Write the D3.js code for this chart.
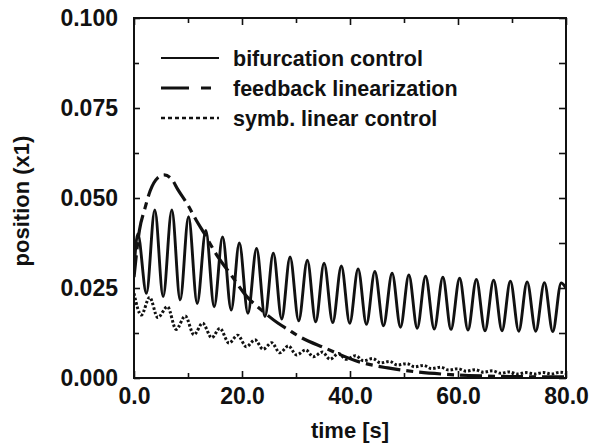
<!DOCTYPE html>
<html>
<head>
<meta charset="utf-8">
<script src="https://cdn.jsdelivr.net/npm/d3@7"></script>
<style>
  html, body { margin: 0; padding: 0; background: #fff; }
  svg { display: block; }
  text { font-family: Arial, "Liberation Sans", Helvetica, sans-serif; fill: #111; }
</style>
</head>
<body>
<svg id="chart" width="589" height="444"></svg>
<script>
// Time axis ticks [s]
const xMajorTicks = [0, 20, 40, 60, 80];
const xMinorTicks = [10, 30, 50, 70];
// Position axis ticks
const yMajorTicks = [0, 0.025, 0.05, 0.075, 0.1];
const yMinorTicks = [0.0125, 0.0375, 0.0625, 0.0875];

// Bifurcation control: sampled at the successive extrema of the oscillation
const bifurcationTime = [0, 0.7, 2.3, 3.85, 5.4, 7.0, 8.55, 10.1, 11.7, 13.3, 14.85, 16.4, 18.0, 19.5,
  21.1, 22.7, 24.25, 25.8, 27.35, 28.9, 30.5, 32.1, 33.65, 35.2, 36.8, 38.4, 39.95, 41.5, 43.05, 44.6,
  46.2, 47.8, 49.35, 50.9, 52.45, 54.0, 55.6, 57.2, 58.7, 60.3, 61.85, 63.4, 65.0, 66.6, 68.15, 69.7,
  71.25, 72.8, 74.4, 76.0, 77.55, 79.1, 80];
const bifurcationPos = [0.030, 0.040, 0.0235, 0.0467, 0.0226, 0.0467, 0.0217, 0.0448, 0.0207, 0.041,
  0.0198, 0.0392, 0.0189, 0.0375, 0.018, 0.036, 0.0171, 0.0347, 0.0164, 0.0336, 0.0159, 0.0327, 0.0156,
  0.0319, 0.0154, 0.0311, 0.0152, 0.0303, 0.0149, 0.0296, 0.0145, 0.0291, 0.0141, 0.0286, 0.0138, 0.0283,
  0.0136, 0.028, 0.0135, 0.0277, 0.0133, 0.0274, 0.0131, 0.0272, 0.0131, 0.0269, 0.013, 0.0267, 0.013,
  0.0265, 0.0129, 0.0264, 0.025];

// Feedback linearization
const feedbackTime = [0, 1.0, 2.0, 3.0, 4.4, 5.6, 7.0, 8.1, 10.0, 11.5, 13.0, 15.3, 17.8, 20.9, 23.5,
  26.7, 28.5, 30.4, 35.4, 41.9, 47, 52.3, 57, 62, 70, 80];
const feedbackPos = [0.028, 0.041, 0.047, 0.052, 0.0556, 0.0564, 0.0552, 0.0524, 0.048, 0.0439, 0.0402,
  0.0342, 0.029, 0.0226, 0.019, 0.0152, 0.0135, 0.0117, 0.0083, 0.0044, 0.0028, 0.0017, 0.0011, 0.0007,
  0.0004, 0.0003];

// Symbolic linear control
const linearTime = [0, 1.35, 2.9, 4.4, 6.2, 7.8, 9.5, 11.1, 12.7, 14.4, 15.9, 17.6, 19.2, 20.8, 22.4,
  23.9, 25.5, 27.0, 28.6, 30.1, 31.8, 33.2, 34.9, 36.3, 37.9, 39.3, 41.0, 42.5, 44.2, 45.7, 47.3, 48.8,
  50.5, 52, 53.6, 55.1, 56.8, 58.3, 60, 61.5, 63.2, 64.7, 66.4, 67.9, 69.5, 71.0, 72.6, 74.2, 75.8, 77.3,
  78.9, 80];
const linearPos = [0.0235, 0.0175, 0.0224, 0.0168, 0.0198, 0.0135, 0.0172, 0.012, 0.0152, 0.0112, 0.0138,
  0.0097, 0.0119, 0.0087, 0.0106, 0.008, 0.0098, 0.007, 0.0089, 0.0064, 0.0078, 0.0059, 0.0072, 0.0052,
  0.0068, 0.0052, 0.0062, 0.0048, 0.0054, 0.0042, 0.0046, 0.0036, 0.004, 0.0031, 0.0035, 0.0026, 0.003,
  0.0022, 0.0026, 0.0019, 0.0023, 0.0016, 0.002, 0.0013, 0.0017, 0.0011, 0.0015, 0.0011, 0.0015, 0.0011,
  0.0016, 0.0013];

const legendLabels = ["bifurcation control", "feedback linearization", "symb. linear control"];

const svg = d3.select("#chart");
const plot = { left: 134, right: 566, top: 18, bottom: 378 };

const x = d3.scaleLinear().domain([0, 80]).range([plot.left, plot.right]);
const y = d3.scaleLinear().domain([0, 0.1]).range([plot.bottom, plot.top]);

const ink = "#111";

// Inward ticks on all four sides
function tickAxis(axis, transform, values, size, fmt, pad) {
  const g = svg.append("g").attr("transform", transform)
    .call(axis.tickValues(values).tickSize(-size).tickPadding(pad).tickFormat(fmt));
  g.select(".domain").remove();
  g.selectAll(".tick line").attr("stroke", ink).attr("stroke-width", 1.6);
  g.selectAll("text").style("font-size", "23px").style("font-weight", "bold").attr("fill", ink);
  return g;
}
const blank = () => "";
tickAxis(d3.axisBottom(x), `translate(0,${plot.bottom})`, xMajorTicks, 7, d3.format(".1f"), 10);
tickAxis(d3.axisBottom(x), `translate(0,${plot.bottom})`, xMinorTicks, 5, blank, 0);
tickAxis(d3.axisTop(x), `translate(0,${plot.top})`, xMajorTicks, 7, blank, 0);
tickAxis(d3.axisTop(x), `translate(0,${plot.top})`, xMinorTicks, 5, blank, 0);
tickAxis(d3.axisLeft(y), `translate(${plot.left},0)`, yMajorTicks, 6, d3.format(".3f"), 16);
tickAxis(d3.axisLeft(y), `translate(${plot.left},0)`, yMinorTicks, 5, blank, 0);
tickAxis(d3.axisRight(y), `translate(${plot.right},0)`, yMajorTicks, 7, blank, 0);
tickAxis(d3.axisRight(y), `translate(${plot.right},0)`, yMinorTicks, 7, blank, 0);

// Frame
svg.append("rect")
  .attr("x", plot.left).attr("y", plot.top)
  .attr("width", plot.right - plot.left).attr("height", plot.bottom - plot.top)
  .attr("fill", "none").attr("stroke", ink).attr("stroke-width", 2);

// Axis titles
svg.append("text")
  .attr("x", 350).attr("y", 438)
  .attr("text-anchor", "middle")
  .style("font-size", "22px").style("font-weight", "bold")
  .text("time [s]");
svg.append("text")
  .attr("transform", "translate(29,201) rotate(-90)")
  .attr("text-anchor", "middle")
  .style("font-size", "22px").style("font-weight", "bold")
  .text("position (x1)");

// Curves
svg.append("clipPath").attr("id", "plot-clip")
  .append("rect").attr("x", plot.left).attr("y", plot.top)
  .attr("width", plot.right - plot.left).attr("height", plot.bottom - plot.top);

const line = d3.line()
  .x(d => x(d[0])).y(d => y(d[1]))
  .curve(d3.curveMonotoneX);

const series = [
  { t: bifurcationTime, v: bifurcationPos, width: 2.9, dash: null },
  { t: feedbackTime, v: feedbackPos, width: 3.2, dash: "22,6,7,6" },
  { t: linearTime, v: linearPos, width: 3, dash: "2.5,2" }
];

const curves = svg.append("g").attr("clip-path", "url(#plot-clip)");
series.forEach(s => {
  curves.append("path")
    .datum(d3.zip(s.t, s.v))
    .attr("d", line)
    .attr("fill", "none")
    .attr("stroke", ink)
    .attr("stroke-width", s.width)
    .attr("stroke-linejoin", "round")
    .attr("stroke-dasharray", s.dash);
});

// Legend
const legendDash = [null, "28,12,10,30", "4,3"];
const legendWidth = [2.2, 3, 2.6];
const legend = svg.append("g");
legendLabels.forEach((label, i) => {
  const ly = 58 + i * 30;
  legend.append("line")
    .attr("x1", 161).attr("x2", 219).attr("y1", ly).attr("y2", ly)
    .attr("stroke", ink).attr("stroke-width", legendWidth[i])
    .attr("stroke-dasharray", legendDash[i]);
  legend.append("text")
    .attr("x", 233).attr("y", ly + 7.5)
    .style("font-size", "21.5px").style("font-weight", "bold")
    .text(label);
});
</script>
</body>
</html>
